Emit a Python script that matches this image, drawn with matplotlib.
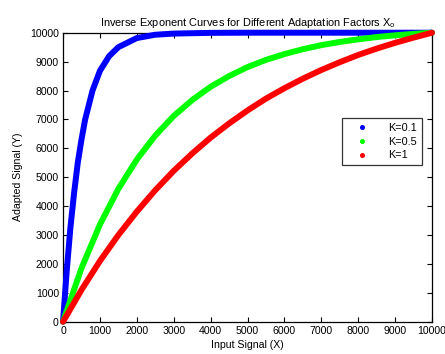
import matplotlib
matplotlib.use("Agg")
import matplotlib.pyplot as plt
from matplotlib.lines import Line2D

plt.rcParams["font.family"] = ["Liberation Sans", "DejaVu Sans"]

# values
x_blue = [0, 100, 200, 300, 400, 500, 600, 800, 1000, 1250, 1500, 2000,
          2500, 3000, 4000, 5000, 6000, 7000, 8000, 9000, 10000]
y_blue = [0, 1750, 3250, 4450, 5500, 6300, 7000, 8000, 8680, 9190, 9500, 9815,
          9930, 9970, 9995, 10000, 10000, 10000, 10000, 10000, 10000]

x_grid = [0, 500, 1000, 1500, 2000, 2500, 3000, 3500, 4000, 4500, 5000,
          5500, 6000, 6500, 7000, 7500, 8000, 8500, 9000, 9500, 10000]
y_green = [0, 1850, 3360, 4600, 5610, 6440, 7120, 7670, 8130, 8500, 8810,
           9060, 9260, 9430, 9570, 9680, 9770, 9850, 9910, 9960, 10000]
y_red = [0, 1100, 2100, 3000, 3810, 4550, 5220, 5820, 6370, 6860, 7310,
         7720, 8080, 8410, 8710, 8980, 9230, 9450, 9650, 9830, 10000]

labels = ["K=0.1", "K=0.5", "K=1"]
colors = ["#0000ff", "#00ff00", "#ff0000"]

fig = plt.figure(figsize=(4.45, 3.54), dpi=100)
ax = fig.add_axes([0.1416, 0.0912, 0.8292, 0.8164])

series = [(x_blue, y_blue), (x_grid, y_green), (x_grid, y_red)]
for (xs, ys), c in zip(series, colors):
    ax.plot(xs, ys, color=c, linewidth=4.3, solid_capstyle="round",
            solid_joinstyle="round", clip_on=False, zorder=3)

ax.set_xlim(0, 10000)
ax.set_ylim(0, 10000)
ax.set_xticks(range(0, 10001, 1000))
ax.set_yticks(range(0, 10001, 1000))
ax.tick_params(direction="in", length=3.5, width=0.8, top=True, right=True,
               labelsize=7.6, pad=3)
for s in ax.spines.values():
    s.set_linewidth(0.9)

ax.set_title(r"Inverse Exponent Curves for Different Adaptation Factors X$_\mathregular{o}$",
             fontsize=7.9, pad=5)
ax.set_xlabel("Input Signal (X)", fontsize=7.6, labelpad=3)
ax.set_ylabel("Adapted Signal (Y)", fontsize=7.6, labelpad=5)

handles = [Line2D([], [], linestyle="none", marker="o", markersize=2.6,
                  color=c) for c in colors]
leg = ax.legend(handles, labels, loc="upper right", bbox_to_anchor=(0.973, 0.705),
                fontsize=7.8, frameon=True, fancybox=False, borderpad=0.45,
                handlelength=2.8, handletextpad=1.0, labelspacing=0.35,
                borderaxespad=0)
leg.get_frame().set_edgecolor("black")
leg.get_frame().set_linewidth(0.9)
leg.set_zorder(5)

fig.savefig("out.png", dpi=100)
